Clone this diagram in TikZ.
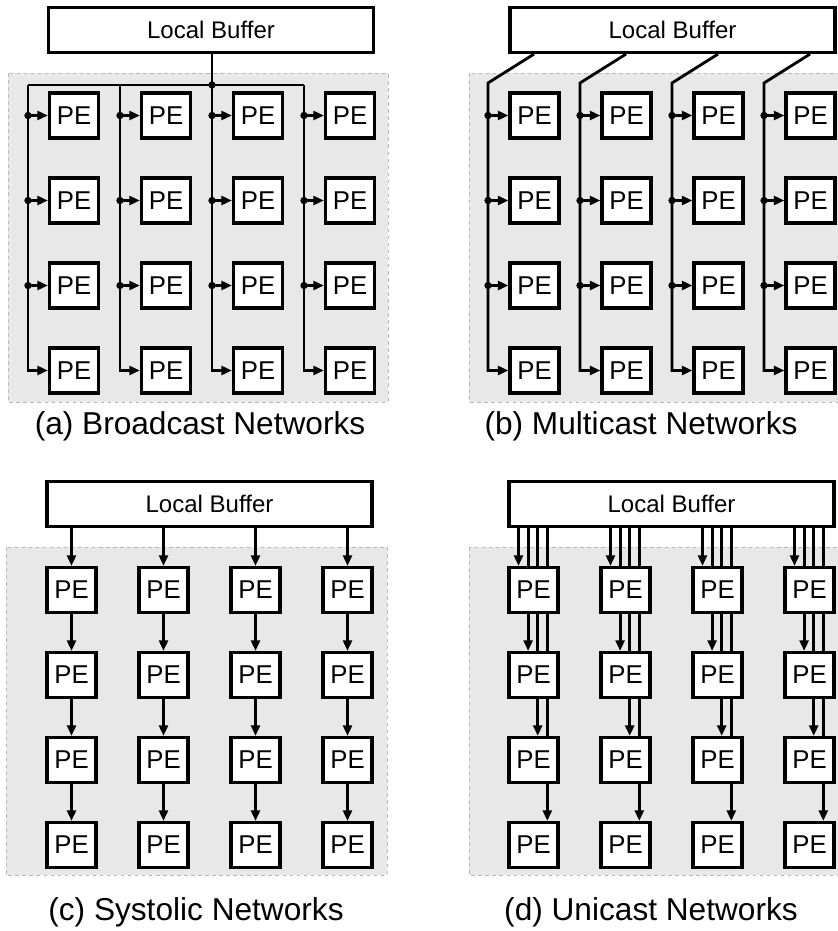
\documentclass[tikz,border=0pt]{standalone}
\usepackage{fontspec}
\setmainfont{Liberation Sans}
\usetikzlibrary{arrows.meta,positioning}

\pgfdeclarelayer{shade}
\pgfdeclarelayer{wires}
\pgfsetlayers{shade,wires,main}

\begin{document}
\begin{tikzpicture}[x=0.3mm,y=-0.3mm]
		\tikzstyle{pe}=[draw, line width=0.95mm, fill=white, minimum width=14.7mm, minimum height=13.5mm, inner sep=0pt, font=\fontsize{22}{24}\selectfont]
		\tikzstyle{buffer}=[pe, minimum width=97.5mm, font=\fontsize{20.5}{22}\selectfont]
		\tikzstyle{array_bg}=[draw=black!28, dashed, line width=0.3pt, fill=black!9]
		\tikzstyle{link}=[line width=0.85mm]
		\tikzstyle{feed}=[link, -{Triangle[length=3.2mm,width=2.7mm]}]
		\tikzstyle{tap}=[circle, fill=black, inner sep=0pt, minimum size=2.2mm]
		\tikzstyle{caption}=[font=\fontsize{27}{30}\selectfont]

		\useasboundingbox (0,0) rectangle (838,931);

		% (a) broadcast
		\begin{scope}
			\begin{pgfonlayer}{shade}
				\draw [array_bg] (8,73) rectangle (388,402);
			\end{pgfonlayer}
			\node [buffer] (bufA) at (211,30) {Local Buffer};
			\foreach \i in {0,...,3}
				\foreach \j in {0,...,3}
					\node [pe] (a\i\j) at (74+92*\i,115.5+85*\j) {PE};

			\foreach \i in {0,...,3} {
				\coordinate (ta\i) at (28+92*\i,85);
				\draw [feed] (ta\i) |- (a\i3.west);
				\foreach \j in {0,1,2} {
					\draw [feed] (ta\i |- a\i\j.west) -- (a\i\j.west);
					\node [tap] (tapa\i\j) at (ta\i |- a\i\j.west) {};
				}
			}
			\draw [link] (ta0) -- (ta3);
			\draw [link] (bufA.south -| ta2) -- (ta2);
			\node [tap] (tapA) at (ta2) {};
			\node [caption] (capA) at (200,426) {(a) Broadcast Networks};
		\end{scope}

		% (b) multicast
		\begin{scope}[shift={(461,0)}]
			\begin{pgfonlayer}{shade}
				\draw [array_bg] (8,73) rectangle (378,402);
			\end{pgfonlayer}
			\node [buffer] (bufB) at (211.5,30) {Local Buffer};
			\foreach \i in {0,...,3}
				\foreach \j in {0,...,3}
					\node [pe] (b\i\j) at (73.5+92*\i,115.5+85*\j) {PE};

			\foreach \i in {0,...,3} {
				\coordinate (sb\i) at (73+92*\i,0);
				\coordinate (kb\i) at (27+92*\i,83);
				\draw [feed] (bufB.south -| sb\i) -- (kb\i) |- (b\i3.west);
				\foreach \j in {0,1,2} {
					\draw [feed] (kb\i |- b\i\j.west) -- (b\i\j.west);
					\node [tap] (tapb\i\j) at (kb\i |- b\i\j.west) {};
				}
			}
			\node [caption] (capB) at (180,426) {(b) Multicast Networks};
		\end{scope}

		% (c) systolic
		\begin{scope}[shift={(-2,474.5)}]
			\begin{pgfonlayer}{shade}
				\draw [array_bg] (8,72.5) rectangle (389,400.5);
			\end{pgfonlayer}
			\node [buffer] (bufC) at (211.5,29.5) {Local Buffer};
			\foreach \i in {0,...,3}
				\foreach \j in {0,...,3}
					\node [pe] (c\i\j) at (73.5+92*\i,115.5+85*\j) {PE};

			\foreach \i in {0,...,3} {
				\draw [feed] (bufC.south -| c\i0.north) -- (c\i0.north);
				\draw [feed] (c\i0) -- (c\i1);
				\draw [feed] (c\i1) -- (c\i2);
				\draw [feed] (c\i2) -- (c\i3);
			}
			\node [caption] (capC) at (198,437.5) {(c) Systolic Networks};
		\end{scope}

		% (d) unicast
		\begin{scope}[shift={(460,474.5)}]
			\begin{pgfonlayer}{shade}
				\draw [array_bg] (9,72.5) rectangle (378,400.5);
			\end{pgfonlayer}
			\node [buffer] (bufD) at (211.5,29.5) {Local Buffer};
			\foreach \i in {0,...,3}
				\foreach \j in {0,...,3}
					\node [pe] (d\i\j) at (73.5+92*\i,115.5+85*\j) {PE};

			\begin{pgfonlayer}{wires}
				\foreach \i in {0,...,3}
					\foreach \k in {0,...,3} {
						\coordinate (ud\i\k) at (58.5+92*\i+9.6*\k,0);
						\draw [feed] (bufD.south -| ud\i\k) -- (d\i\k.north -| ud\i\k);
					}
			\end{pgfonlayer}
			\node [caption] (capD) at (191,437.5) {(d) Unicast Networks};
		\end{scope}

	\end{tikzpicture}
\end{document}
